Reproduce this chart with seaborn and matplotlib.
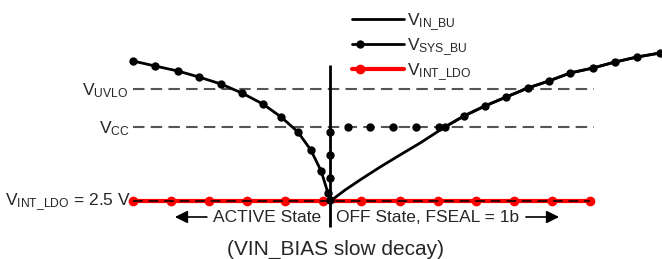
import matplotlib
matplotlib.use("Agg")
import matplotlib.pyplot as plt
import seaborn as sns
from matplotlib.lines import Line2D
from matplotlib.legend_handler import HandlerLine2D

# time axis in arbitrary units, voltage in arbitrary volts
sys_left_t = [0, 0.58, 1.18, 1.73, 2.31, 2.86, 3.41, 3.89, 4.33, 4.67, 4.94, 5.12, 5.17]
sys_left_v = [6.0, 5.875, 5.75, 5.6, 5.425, 5.2, 4.925, 4.6, 4.225, 3.775, 3.25, 2.7, 2.525]

sys_hold_t = [5.17, 5.17, 5.17, 5.65, 6.22, 6.83, 7.43, 8.04]
sys_hold_v = [3.075, 3.65, 4.225, 4.35, 4.35, 4.35, 4.35, 4.35]

sys_right_t = [8.19, 8.69, 9.24, 9.80, 10.37, 10.92, 11.48, 12.08, 12.66, 13.24, 13.84]
sys_right_v = [4.35, 4.625, 4.875, 5.1, 5.325, 5.5, 5.7, 5.825, 5.975, 6.1, 6.2]

vin_t = [5.20, 5.57, 5.96, 6.49, 7.01, 7.54] + sys_right_t + [13.95]
vin_v = [2.51, 2.775, 3.025, 3.35, 3.65, 3.95] + sys_right_v + [6.22]

ldo_t = list(range(13))
ldo_v = [2.5] * 13

V_UVLO = 5.3
V_CC = 4.35
V_LDO = 2.5
T_OFF = 5.18
T_END = 12.1

sns.set_theme(style="white")
plt.rcParams["font.family"] = ["Liberation Sans", "DejaVu Sans"]
plt.rcParams["mathtext.fontset"] = "custom"
plt.rcParams["mathtext.rm"] = "Liberation Sans"
plt.rcParams["mathtext.default"] = "regular"

fig = plt.figure(figsize=(6.62, 2.59), dpi=100)
ax = fig.add_axes([0, 0, 1, 1])
ax.set_xlim(-3.493, 13.892)
ax.set_ylim(1.05, 7.525)
ax.axis("off")

# threshold lines
for v in (V_UVLO, V_CC):
    ax.plot([0, T_END], [v, v], color="#555555", lw=1.5, ls=(0, (5.5, 3)), zorder=1)

# state boundary
ax.vlines(T_OFF, 1.85, 5.9, color="black", lw=2, zorder=3)

# V_INT_LDO
sns.lineplot(x=ldo_t, y=ldo_v, ax=ax, color="#ff0000", lw=3, zorder=2, label=r"$V_{INT\_LDO}$",
             marker="o", markersize=7, markeredgewidth=0)
ax.plot([0, 12], [V_LDO, V_LDO], color="#300000", lw=1.4, ls=(0, (5, 3)), zorder=2.5)

# V_IN_BU
sns.lineplot(x=vin_t, y=vin_v, ax=ax, color="black", lw=2, zorder=4, label=r"$V_{IN\_BU}$", sort=False)

# V_SYS_BU
sns.lineplot(x=sys_left_t, y=sys_left_v, ax=ax, color="black", lw=2, marker="o", markersize=6,
             markeredgewidth=0, zorder=5, sort=False, label=r"$V_{SYS\_BU}$")
sns.scatterplot(x=sys_hold_t, y=sys_hold_v, ax=ax, color="black", s=36, linewidth=0, zorder=5)
sns.lineplot(x=sys_right_t, y=sys_right_v, ax=ax, color="black", lw=2, marker="o", markersize=6,
             markeredgewidth=0, zorder=5, sort=False)

# level labels
fs = 12.5
ax.text(-0.13, V_UVLO - 0.15, r"$V_{UVLO}$", ha="right", va="baseline", fontsize=fs)
ax.text(-0.08, V_CC - 0.15, r"$V_{CC}$", ha="right", va="baseline", fontsize=fs)
ax.text(-0.05, V_LDO - 0.12, r"$V_{INT\_LDO}$ = 2.5 V", ha="right", va="baseline", fontsize=fs)

# state annotations
arrow = dict(arrowstyle="-|>", mutation_scale=19, lw=1.2, color="black", shrinkA=0, shrinkB=0)
ax.annotate("", xy=(1.10, 2.1), xytext=(1.94, 2.1), arrowprops=arrow)
ax.text(2.10, 1.975, "ACTIVE State", ha="left", va="baseline", fontsize=fs)
ax.text(5.33, 1.975, "OFF State, FSEAL = 1b", ha="left", va="baseline", fontsize=fs)
ax.annotate("", xy=(11.19, 2.1), xytext=(10.32, 2.1), arrowprops=arrow)
ax.text(5.33, 1.16, "(VIN_BIAS slow decay)", ha="center", va="baseline", fontsize=15)


class LeftDot(HandlerLine2D):
    # single legend marker near the left end of the handle
    def create_artists(self, legend, orig_handle, xdescent, ydescent, width, height, fontsize, trans):
        arts = super().create_artists(legend, orig_handle, xdescent, ydescent, width, height, fontsize, trans)
        for a in arts:
            x = a.get_xdata()
            if len(x) == 3:
                a.set_xdata([x[0], x[0] + 0.15 * (x[2] - x[0]), x[2]])
        return arts


handles, labels = ax.get_legend_handles_labels()
order = [labels.index(l) for l in (r"$V_{IN\_BU}$", r"$V_{SYS\_BU}$", r"$V_{INT\_LDO}$")]
ax.legend([handles[i] for i in order], [labels[i] for i in order],
          loc="upper left", bbox_to_anchor=(352 / 662, 1 - 11 / 259), frameon=False,
          borderpad=0, borderaxespad=0, handlelength=3.0, handletextpad=0.15,
          labelspacing=0.2, fontsize=fs, numpoints=1, handler_map={Line2D: LeftDot()})

fig.savefig("out.png", dpi=100)
